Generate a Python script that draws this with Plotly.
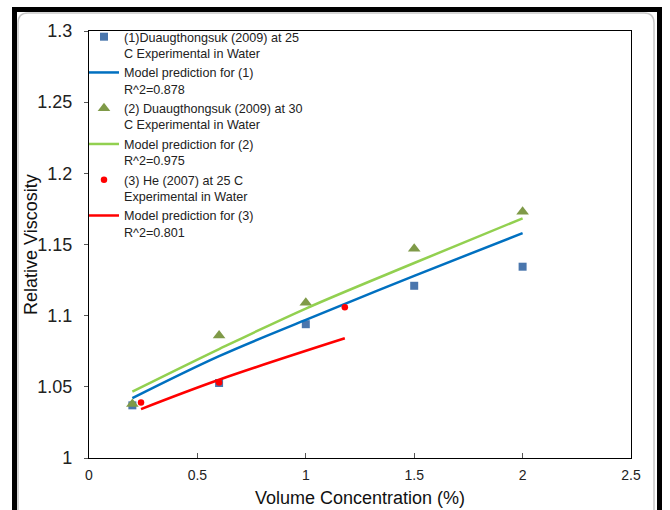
import plotly.graph_objects as go

# Experimental data
exp1_x = [0.2, 0.6, 1.0, 1.5, 2.0]
exp1_y = [1.037, 1.0527, 1.094, 1.121, 1.1344]
exp2_x = [0.2, 0.6, 1.0, 1.5, 2.0]
exp2_y = [1.038, 1.086, 1.109, 1.147, 1.173]
exp3_x = [0.24, 0.6, 1.18]
exp3_y = [1.039, 1.053, 1.106]

# Model predictions
mod1_x = [0.2, 0.6, 1.0, 1.5, 2.0]
mod1_y = [1.042, 1.0715, 1.097, 1.128, 1.158]
mod2_x = [0.2, 0.6, 1.0, 1.5, 2.0]
mod2_y = [1.0466, 1.0765, 1.105, 1.137, 1.1684]
mod3_x = [0.24, 0.6, 1.18]
mod3_y = [1.0344, 1.055, 1.0841]

names = [
    "(1)Duaugthongsuk (2009) at 25<br>C Experimental in Water",
    "Model prediction for (1)<br>R^2=0.878",
    "(2) Duaugthongsuk (2009) at 30<br>C Experimental in Water",
    "Model prediction for (2)<br>R^2=0.975",
    "(3) He (2007) at 25 C<br>Experimental in Water",
    "Model prediction for (3)<br>R^2=0.801",
]

x_ticks = [0, 0.5, 1, 1.5, 2, 2.5]
x_ticklabels = ["0", "0.5", "1", "1.5", "2", "2.5"]
y_ticks = [1, 1.05, 1.1, 1.15, 1.2, 1.25, 1.3]
y_ticklabels = ["1", "1.05", "1.1", "1.15", "1.2", "1.25", "1.3"]
x_title = "Volume Concentration (%)"
y_title = "Relative Viscosity"

fig = go.Figure()
fig.add_trace(go.Scatter(x=exp1_x, y=exp1_y, mode="markers", name=names[0],
                         marker=dict(symbol="square", size=8, color="#4A76AD")))
fig.add_trace(go.Scatter(x=mod1_x, y=mod1_y, mode="lines", name=names[1],
                         line=dict(color="#0070C0", width=2.5, shape="spline")))
fig.add_trace(go.Scatter(x=exp2_x, y=exp2_y, mode="markers", name=names[2],
                         marker=dict(symbol="triangle-up", size=11, color="#7F9A48")))
fig.add_trace(go.Scatter(x=mod2_x, y=mod2_y, mode="lines", name=names[3],
                         line=dict(color="#92D050", width=2.5, shape="spline")))
fig.add_trace(go.Scatter(x=exp3_x, y=exp3_y, mode="markers", name=names[4],
                         marker=dict(symbol="circle", size=6.5, color="#FF0000")))
fig.add_trace(go.Scatter(x=mod3_x, y=mod3_y, mode="lines", name=names[5],
                         line=dict(color="#FF0000", width=2.5, shape="spline")))

L, R, T, B = 89, 631, 31, 458
W, H = 670, 510


def px(xp):
    return (xp - L) / (R - L)


def py(yp):
    return (B - yp) / (B - T)


shapes = [
    # rounded light panel
    dict(type="path", xref="paper", yref="paper", layer="below",
         path=(f"M {px(18)},{py(530)} L {px(18)},{py(23)} "
               f"Q {px(18)},{py(13)} {px(28)},{py(13)} "
               f"L {px(644)},{py(13)} Q {px(654)},{py(13)} {px(654)},{py(23)} "
               f"L {px(654)},{py(530)}"),
         line=dict(color="#C8C8C8", width=1.5)),
    # thick black outer border
    dict(type="path", xref="paper", yref="paper",
         path=(f"M {px(14.5)},{py(530)} L {px(14.5)},{py(9.5)} "
               f"L {px(659.5)},{py(9.5)} L {px(659.5)},{py(530)}"),
         line=dict(color="black", width=5)),
]

fig.update_layout(
    width=W, height=H,
    margin=dict(l=L, r=W - R, t=T, b=H - B, autoexpand=False),
    paper_bgcolor="white", plot_bgcolor="white",
    font=dict(family="Liberation Sans, Arial, sans-serif", color="#222222"),
    showlegend=True,
    legend=dict(x=px(84), y=py(22), xanchor="left", yanchor="top",
                bgcolor="rgba(0,0,0,0)", font=dict(size=12.6, color="#222222"),
                tracegroupgap=0, itemwidth=30, valign="top"),
    shapes=shapes,
    annotations=[
        dict(text=y_title, xref="paper", yref="paper", x=px(31), y=py(245),
             xanchor="center", yanchor="middle", textangle=-90, showarrow=False,
             font=dict(size=18, color="#111111")),
    ],
    xaxis=dict(range=[0, 2.5], tickvals=x_ticks, ticktext=x_ticklabels,
               ticks="inside", ticklen=5, tickcolor="#555555",
               showline=True, linecolor="black", linewidth=1.3, mirror=True,
               showgrid=False, zeroline=False,
               tickfont=dict(size=14, color="#222222"),
               ticklabelstandoff=4,
               title=dict(text=x_title, font=dict(size=18, color="#111111"),
                          standoff=9)),
    yaxis=dict(range=[1, 1.3], tickvals=y_ticks, ticktext=y_ticklabels,
               ticks="outside", ticklen=4, tickcolor="#555555",
               showline=True, linecolor="black", linewidth=1.3, mirror=True,
               showgrid=False, zeroline=False,
               tickfont=dict(size=18, color="#222222"),
               ticklabelstandoff=8),
)

for i, tr in enumerate(fig.data):
    tr.legendgroup = f"g{i}"

fig.write_html("out.html", config={"displayModeBar": False},
               post_script="document.body.style.margin='0';document.body.style.overflow='hidden';")
